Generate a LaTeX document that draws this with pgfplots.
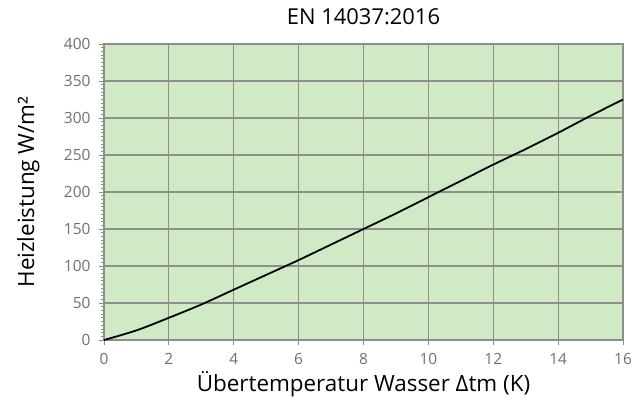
\documentclass[border=0pt]{standalone}
\usepackage{pgfplots}
\pgfplotsset{compat=1.18}
\usepackage{fontspec}
\setmainfont{Open Sans}
\definecolor{bgg}{HTML}{CFEAC4}
\definecolor{gridc}{HTML}{8E8E8E}
\definecolor{tickc}{HTML}{707070}
\begin{document}
\begin{tikzpicture}[x=1bp,y=1bp]
\path[use as bounding box] (-104,-61) rectangle (535,340);
\begin{axis}[
  at={(0,0)}, anchor=south west,
  scale only axis,
  width=519bp, height=296bp,
  xmin=0, xmax=16, ymin=0, ymax=400,
  xtick={0,2,...,16}, ytick={0,50,...,400},
  minor y tick num=9,
  axis background/.style={fill=bgg},
  grid=major,
  major grid style={gridc, line width=1.2pt},
  axis line style={gridc, line width=1.2pt},
  tick style={gridc, line width=0.8pt},
  xtick pos=bottom, ytick pos=left,
  tick align=outside,
  major tick length=5bp, minor tick length=3bp,
  tick label style={font=\fontsize{15.5}{18}\selectfont, text=tickc},
  /pgf/number format/assume math mode=true,
  title={EN 14037:2016},
  title style={font=\fontsize{22}{26}\selectfont, at={(axis description cs:0.5,1.044)}, anchor=base},
  xlabel={Übertemperatur Wasser Δtm (K)},
  ylabel={Heizleistung W/m²},
  label style={font=\fontsize{22.5}{26}\selectfont},
  xlabel style={at={(axis description cs:0.5,-0.149)}, anchor=center},
  ylabel style={at={(axis description cs:-0.146,0.5)}, anchor=center},
  xticklabel style={yshift=-5bp},
  yticklabel style={xshift=-5bp},
]
\addplot[black, line width=1.8pt, smooth] coordinates {
(0,0) (1,13) (2,30) (3,48) (4,68) (5,88) (6,108) (7,129) (8,150)
(9,171) (10,193) (11,215) (12,237) (13,258) (14,280) (15,303) (16,325)
};
\end{axis}
\end{tikzpicture}
\end{document}
